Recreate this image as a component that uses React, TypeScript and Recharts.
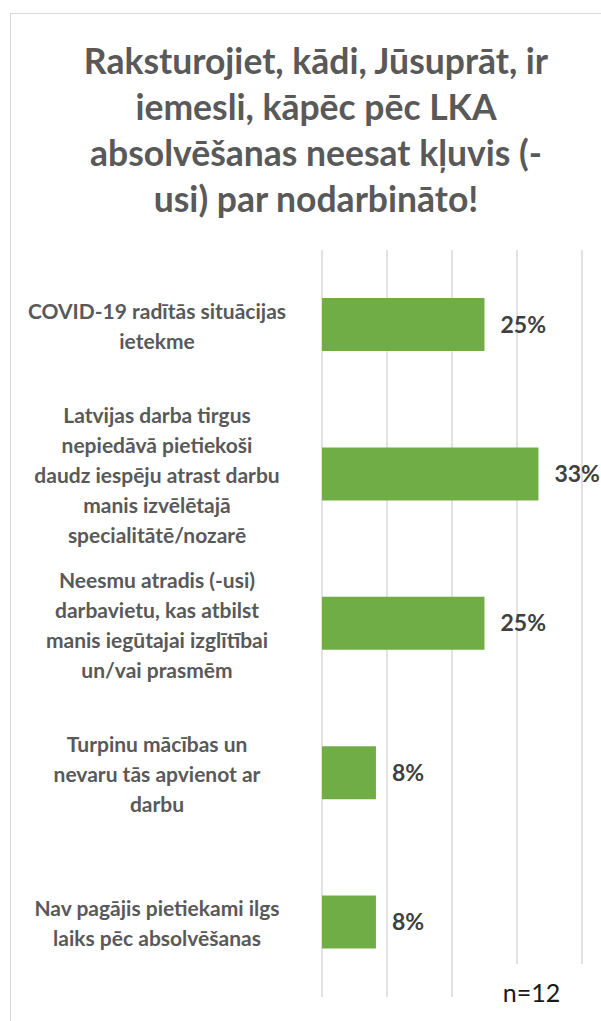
import React from 'react';
import { BarChart, Bar, XAxis, YAxis, CartesianGrid, LabelList } from 'recharts';

const titleLines = [
	'Raksturojiet, kādi, Jūsuprāt, ir',
	'iemesli, kāpēc pēc LKA',
	'absolvēšanas neesat kļuvis (-',
	'usi) par nodarbināto!',
];

const categories = [
	'COVID-19 radītās situācijas\nietekme',
	'Latvijas darba tirgus\nnepiedāvā pietiekoši\ndaudz iespēju atrast darbu\nmanis izvēlētajā\nspecialitātē/nozarē',
	'Neesmu atradis (-usi)\ndarbavietu, kas atbilst\nmanis iegūtajai izglītībai\nun/vai prasmēm',
	'Turpinu mācības un\nnevaru tās apvienot ar\ndarbu',
	'Nav pagājis pietiekami ilgs\nlaiks pēc absolvēšanas',
];

const shares = [0.25, 0.333, 0.25, 0.083, 0.083];

const axisTicks = [0, 0.1, 0.2, 0.3, 0.4];

const sampleNote = 'n=12';

const data = categories.map((name, i) => ({ name, value: shares[i] }));

const FONT = 'Lato, "Open Sans", sans-serif';

function CategoryTick(props: any) {
	const { x, y, payload } = props;
	const lines: string[] = String(payload.value).split('\n');
	const lh = 30;
	const startDy = -((lines.length - 1) * lh) / 2;
	return (
		<text
			x={x - 157}
			y={y}
			textAnchor="middle"
			fill="#595959"
			fontFamily={FONT}
			fontWeight={700}
			fontSize={21}
			dominantBaseline="central"
		>
			{lines.map((line, i) => (
				<tspan key={i} x={x - 157} dy={i === 0 ? startDy : lh}>
					{line}
				</tspan>
			))}
		</text>
	);
}

const EmptyTick = () => <g />;

export default function App() {
	return (
		<div style={{ position: 'absolute', left: 0, top: 0, width: 601, height: 1021, overflow: 'hidden', background: '#fff' }}>
			<div
				style={{
					position: 'absolute',
					left: 10,
					top: 13,
					width: 640,
					height: 1060,
					border: '1.5px solid #d9d9d9',
					boxSizing: 'border-box',
				}}
			/>
			<div
				style={{
					position: 'absolute',
					left: 16,
					top: 38,
					width: 600,
					textAlign: 'center',
					fontFamily: FONT,
					fontWeight: 700,
					fontSize: 35.5,
					lineHeight: '46px',
					color: '#595959',
				}}
			>
				{titleLines.map((t, i) => (
					<div key={i} style={{ whiteSpace: 'nowrap' }}>{t}</div>
				))}
			</div>
			<div style={{ position: 'absolute', left: 0, top: 0 }}>
				<BarChart
					width={601}
					height={1021}
					data={data}
					layout="vertical"
					margin={{ top: 250, right: 19, bottom: 23, left: 0 }}
					barSize={53}
				>
					<CartesianGrid horizontal={false} stroke="#d9d9d9" strokeWidth={1.5} />
					<XAxis
						type="number"
						domain={[0, 0.4]}
						ticks={axisTicks}
						tick={EmptyTick}
						axisLine={false}
						tickLine={false}
						height={1}
						interval={0}
					/>
					<YAxis
						type="category"
						dataKey="name"
						width={322}
						axisLine={false}
						tickLine={false}
						tick={<CategoryTick />}
						interval={0}
					/>
					<Bar dataKey="value" fill="#70ad47" isAnimationActive={false}>
						<LabelList
							dataKey="value"
							position="right"
							offset={16}
							formatter={(v: any) => `${Math.round(Number(v) * 100)}%`}
							fill="#404040"
							fontFamily={FONT}
							fontWeight={700}
							fontSize={23}
						/>
					</Bar>
				</BarChart>
			</div>
			<div
				style={{
					position: 'absolute',
					left: 462,
					top: 964,
					width: 139,
					height: 57,
					background: '#fff',
					textAlign: 'center',
					fontFamily: FONT,
					fontSize: 25,
					lineHeight: '57px',
					color: '#1a1a1a',
				}}
			>
				{sampleNote}
			</div>
		</div>
	);
}
